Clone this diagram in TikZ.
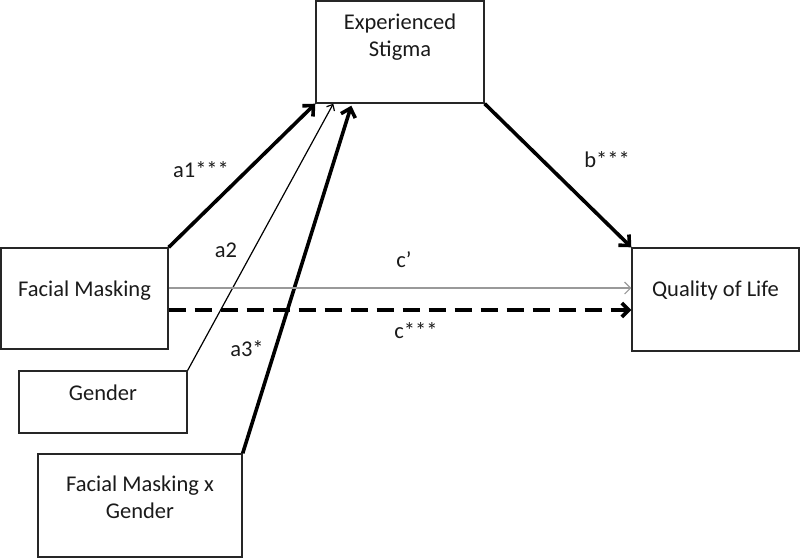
\documentclass[tikz,border=0pt]{standalone}
\usepackage{fontspec}
\setmainfont{Carlito}
\usetikzlibrary{arrows.meta}
\definecolor{txt}{HTML}{1A1A1A}
\tikzset{
  box/.style={draw=black!85, line width=1.4pt, rectangle, inner sep=0pt},
  boxtext/.style={font=\fontsize{22.5}{27}\selectfont, text=txt, align=center},
  lbl/.style={font=\fontsize{22.5}{27}\selectfont, text=txt, inner sep=0pt},
  thickarr/.style={line width=3.6pt, -{Straight Barb[length=8pt,width=15pt]}},
  thinarr/.style={line width=1.2pt, -{Straight Barb[length=5pt,width=9pt]}},
  grayarr/.style={line width=1.1pt, draw=black!40, -{Straight Barb[length=6pt,width=12pt]}},
  dasharr/.style={line width=3.6pt, dash pattern=on 17pt off 9pt, -{Straight Barb[length=7pt,width=14pt]}}
}
\begin{document}
\begin{tikzpicture}[x=1pt,y=-1pt]
\useasboundingbox (0,0) rectangle (800,558);
\node[box, minimum width=168pt, minimum height=102pt,
  label={[boxtext, yshift=15pt]center:Experienced\\Stigma}] (st) at (400,52) {};
\node[box, minimum width=167pt, minimum height=101pt,
  label={[boxtext, yshift=7.5pt]center:Facial Masking}] (fm) at (84.5,298.5) {};
\node[box, minimum width=167pt, minimum height=103pt,
  label={[boxtext, yshift=9.5pt]center:Quality of Life}] (ql) at (715.5,299.5) {};
\node[box, minimum width=168pt, minimum height=62pt,
  label={[boxtext, yshift=9pt]center:Gender}] (gd) at (103,402) {};
\node[box, minimum width=204pt, minimum height=103pt,
  label={[boxtext, yshift=8.5pt]center:Facial Masking x\\Gender}] (fg) at (140,505.5) {};

\draw[thickarr] (fm.north east) -- (st.south west);
\draw[thinarr] (gd.north east) -- ([xshift=18pt]st.south west);
\draw[thickarr] (fg.north east) -- ([xshift=36pt,yshift=-2pt]st.south west);
\draw[thickarr] (st.south east) -- (ql.north west);
\coordinate (cp) at ([yshift=10.5pt]fm.east);
\coordinate (cd) at ([yshift=-11.5pt]fm.east);
\draw[grayarr] (cp) -- (cp -| ql.west);
\draw[dasharr] (cd) -- (cd -| ql.west);

\node[lbl] (la1) at (201,170) {a1***};
\node[lbl] (la2) at (226,250) {a2};
\node[lbl] (la3) at (247,349) {a3*};
\node[lbl] (lb) at (607,160) {b***};
\node[lbl] (lcp) at (404,260) {c’};
\node[lbl] (lc) at (416,331) {c***};
\end{tikzpicture}
\end{document}
